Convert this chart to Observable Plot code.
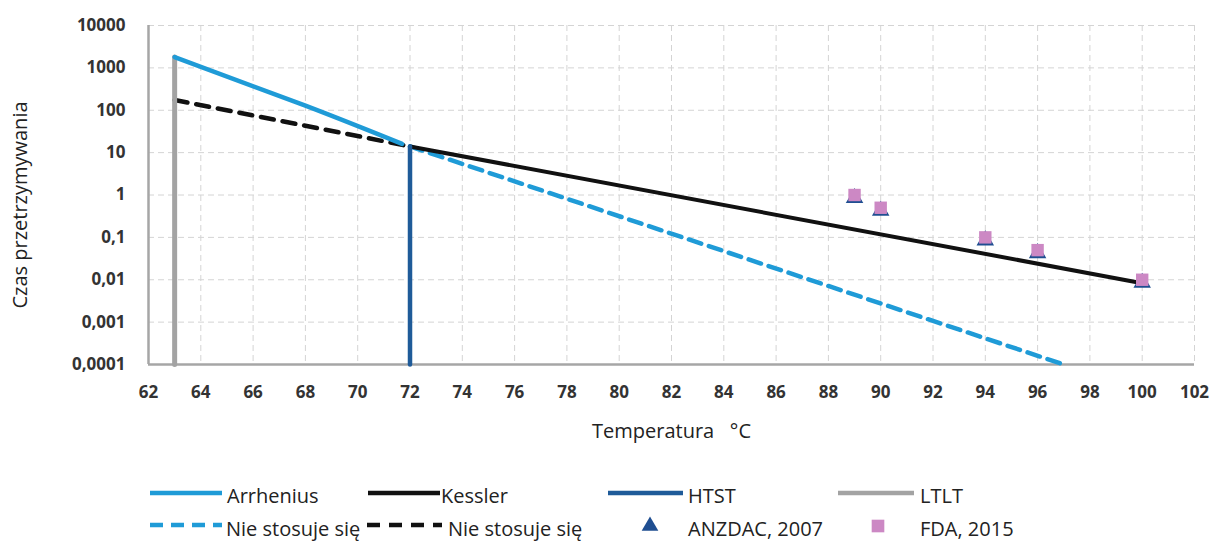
<!DOCTYPE html>
<html>
<head>
<meta charset="utf-8">
<script src="https://cdn.jsdelivr.net/npm/d3@7"></script>
<script src="https://cdn.jsdelivr.net/npm/@observablehq/plot@0.6"></script>
<style>
  body { margin: 0; background: #fff; font-family: "Open Sans", sans-serif; }
  #wrap { position: relative; width: 1210px; height: 542px; overflow: hidden; }
  #legend { position: absolute; left: 0; top: 450px; }
</style>
</head>
<body>
<div id="wrap"><div id="chart"></div><svg id="legend" width="1210" height="92"></svg></div>
<script>
// ---- data ----
const xTicks = [62, 64, 66, 68, 70, 72, 74, 76, 78, 80, 82, 84, 86, 88, 90, 92, 94, 96, 98, 100, 102];
const yTicks = [0.0001, 0.001, 0.01, 0.1, 1, 10, 100, 1000, 10000];

const arrheniusT = [63, 68, 71.7];
const arrheniusV = [1800, 128, 16];
const arrheniusExtT = [72, 97];
const arrheniusExtV = [14, 0.0001];

const kesslerT = [72, 100];
const kesslerV = [14, 0.0083];
const kesslerExtT = [63, 72];
const kesslerExtV = [175, 14];

const htstT = [72, 72];
const htstV = [0.0001, 14];
const ltltT = [63, 63];
const ltltV = [0.0001, 1800];

const pointT = [89, 90, 94, 96, 100];
const anzdacV = [1, 0.5, 0.1, 0.05, 0.01];
const fdaV = [1, 0.5, 0.1, 0.05, 0.01];

const seriesNames = ["Arrhenius", "Kessler", "HTST", "LTLT", "Nie stosuje się", "Nie stosuje się", "ANZDAC, 2007", "FDA, 2015"];
const colors = {arr: "#1f9bd7", kes: "#111111", htst: "#1f5b99", ltlt: "#a3a3a3", anz: "#1f4e91", fda: "#cc88c4"};

const fmt = d => String(d).replace(".", ",");

const chart = Plot.plot({
  width: 1210,
  height: 450,
  marginLeft: 148,
  marginRight: 16,
  marginTop: 25,
  marginBottom: 86,
  style: {fontFamily: "Open Sans", background: "#fff"},
  x: {domain: [62, 102]},
  y: {type: "log", domain: [0.0001, 10000]},
  marks: [
    Plot.gridX(xTicks, {stroke: "#d4d4d4", strokeOpacity: 1, strokeDasharray: "6,4"}),
    Plot.gridY(yTicks, {stroke: "#d4d4d4", strokeOpacity: 1, strokeDasharray: "6,4"}),
    Plot.axisX(xTicks, {tickSize: 0, tickPadding: 21, fontSize: 17, fontWeight: "bold", fill: "#333", label: null, tickFormat: d => String(d)}),
    Plot.axisY(yTicks, {tickSize: 0, tickPadding: 23, fontSize: 17, fontWeight: "bold", fill: "#333", label: null, tickFormat: fmt}),
    Plot.ruleX([62], {stroke: "#a6a6a6", strokeWidth: 2.5}),
    Plot.ruleY([0.0001], {stroke: "#a6a6a6", strokeWidth: 2.5}),
    Plot.text(["Temperatura   °C"], {frameAnchor: "bottom", dy: 73, fontSize: 20, fill: "#222"}),
    Plot.text(["Czas przetrzymywania"], {frameAnchor: "left", textAnchor: "middle", dx: -128, dy: 10, rotate: -90, fontSize: 20, fill: "#222"}),
    Plot.line(arrheniusExtT, {x: arrheniusExtT, y: arrheniusExtV, stroke: colors.arr, strokeWidth: 4.5, strokeDasharray: "13,8"}),
    Plot.line(kesslerExtT, {x: kesslerExtT, y: kesslerExtV, stroke: colors.kes, strokeWidth: 4.5, strokeDasharray: "13,9"}),
    Plot.line(ltltT, {x: ltltT, y: ltltV, stroke: colors.ltlt, strokeWidth: 5}),
    Plot.line(arrheniusT, {x: arrheniusT, y: arrheniusV, stroke: colors.arr, strokeWidth: 4.5, curve: "natural"}),
    Plot.line(kesslerT, {x: kesslerT, y: kesslerV, stroke: colors.kes, strokeWidth: 4}),
    Plot.line(htstT, {x: htstT, y: htstV, stroke: colors.htst, strokeWidth: 4.5}),
    Plot.dot(pointT, {x: pointT, y: anzdacV, symbol: "triangle", r: 6.5, dy: 3, fill: colors.anz, stroke: "none"}),
    Plot.dot(pointT, {x: pointT, y: fdaV, symbol: "square", r: 7, fill: colors.fda, stroke: "none"})
  ]
});
document.getElementById("chart").append(chart);

// ---- legend ----
const legendItems = [
  {name: seriesNames[0], kind: "line", color: colors.arr, dash: null, width: 4.5, x0: 150, x1: 222, tx: 227, row: 0},
  {name: seriesNames[1], kind: "line", color: colors.kes, dash: null, width: 4.5, x0: 368, x1: 440, tx: 441, row: 0},
  {name: seriesNames[2], kind: "line", color: colors.htst, dash: null, width: 4.5, x0: 608, x1: 683, tx: 688, row: 0},
  {name: seriesNames[3], kind: "line", color: colors.ltlt, dash: null, width: 4.5, x0: 838, x1: 914, tx: 920, row: 0},
  {name: seriesNames[4], kind: "line", color: colors.arr, dash: "13,8", width: 4.5, x0: 150, x1: 222, tx: 226, row: 1},
  {name: seriesNames[5], kind: "line", color: colors.kes, dash: "13,9", width: 4.5, x0: 367, x1: 442, tx: 448, row: 1},
  {name: seriesNames[6], kind: "triangle", color: colors.anz, tx: 688, cx: 650, row: 1},
  {name: seriesNames[7], kind: "square", color: colors.fda, tx: 920, cx: 878, row: 1}
];
const rowLineY = [43, 75];
const rowTextY = [53, 86];
const lg = d3.select("#legend");
for (const it of legendItems) {
  const ly = rowLineY[it.row];
  if (it.kind === "line") {
    lg.append("line").attr("x1", it.x0).attr("x2", it.x1).attr("y1", ly).attr("y2", ly)
      .attr("stroke", it.color).attr("stroke-width", it.width)
      .attr("stroke-dasharray", it.dash);
  } else {
    const sym = it.kind === "triangle" ? d3.symbolTriangle : d3.symbolSquare;
    const size = it.kind === "triangle" ? 120 : 160;
    lg.append("path").attr("d", d3.symbol(sym, size)()).attr("transform", `translate(${it.cx},${ly + 1})`).attr("fill", it.color);
  }
  lg.append("text").attr("x", it.tx).attr("y", rowTextY[it.row]).attr("font-size", 20)
    .attr("font-family", "Open Sans").attr("fill", "#222").text(it.name);
}
</script>
</body>
</html>
